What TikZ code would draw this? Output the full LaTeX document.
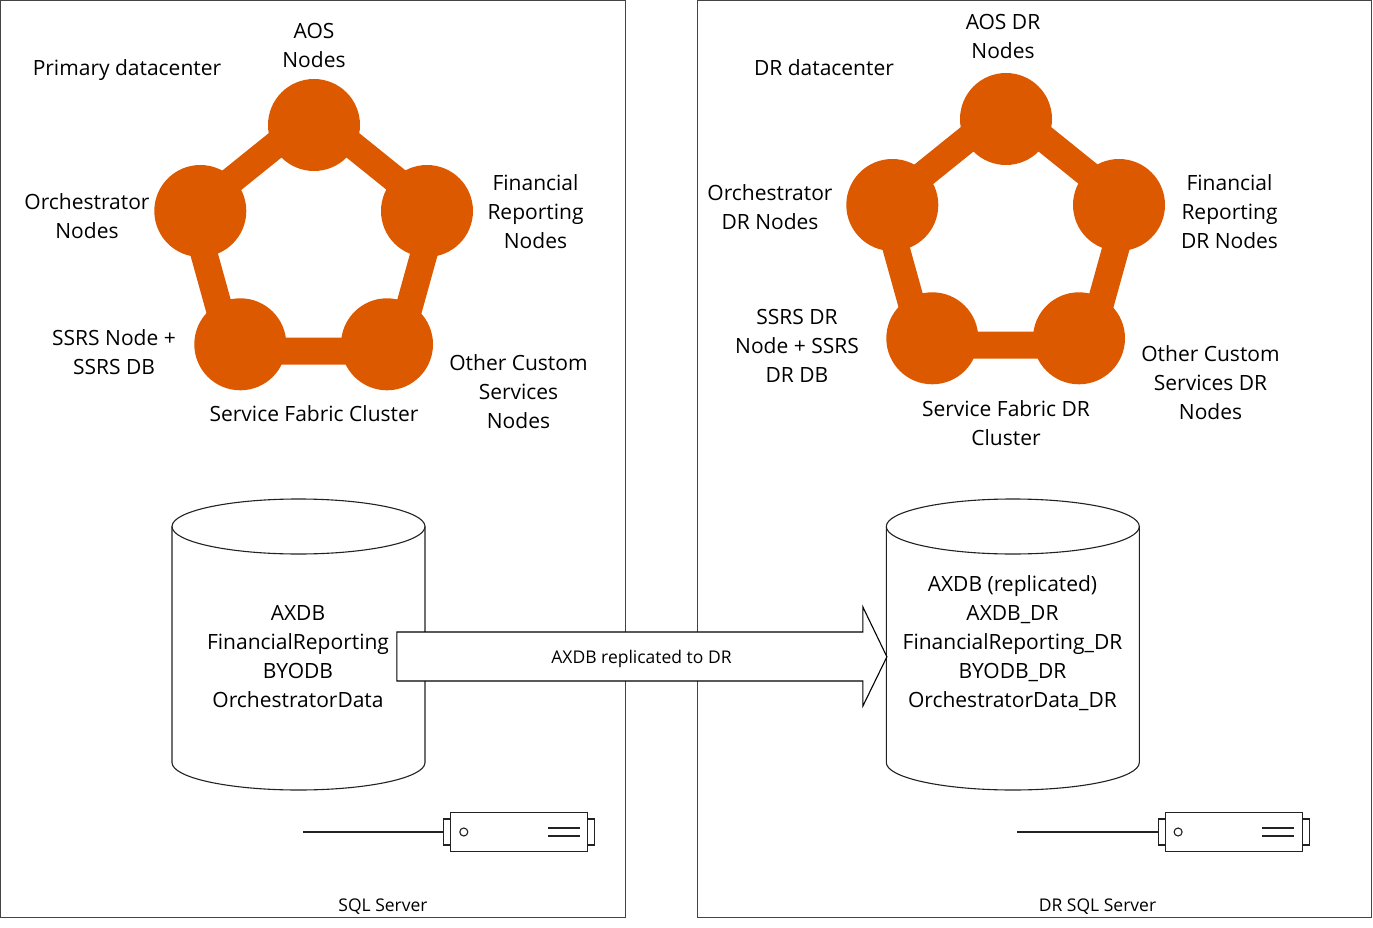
\documentclass[tikz,border=0pt]{standalone}
\usepackage{fontspec}
\setmainfont{Open Sans}
\definecolor{nodeorange}{HTML}{DD5900}
\definecolor{framegray}{HTML}{444444}
\definecolor{inkgray}{HTML}{222222}
\newcommand{\bigfont}{\fontsize{21}{29}\selectfont}
\newcommand{\smallfont}{\fontsize{17.5}{24}\selectfont}
\tikzset{
  frame/.style={draw=framegray,line width=1.1pt},
  label/.style={font=\bigfont,align=center,text=black,inner sep=0pt},
  smalllabel/.style={font=\smallfont,align=center,text=black,inner sep=0pt},
  hub/.style={circle,fill=nodeorange,minimum size=92pt,inner sep=0pt},
  bar/.style={draw=nodeorange,line width=27pt,line join=miter},
  part/.style={draw=inkgray,fill=white,line width=1.1pt,rectangle,inner sep=0pt},
  thin line/.style={draw=inkgray,line width=1.1pt},
  tank/.style={draw=inkgray,line width=1.1pt},
  block/.style={draw=black,fill=white,line width=1.1pt,line join=miter}
}
\newcommand{\ring}[1]{%
  \coordinate (#1a) at (314,114);
  \coordinate (#1b) at (435.6,212);
  \coordinate (#1c) at (397,351);
  \coordinate (#1d) at (231,351);
  \coordinate (#1e) at (192.4,212);
  \draw[bar] (#1a) -- (#1b) -- (#1c) -- (#1d) -- (#1e) -- cycle;
  \node[hub] (#1top) at (314,125) {};
  \node[hub] (#1right) at (427,211) {};
  \node[hub] (#1left) at (200.3,211) {};
  \node[hub] (#1bl) at (240.3,344.3) {};
  \node[hub] (#1br) at (387,344.3) {};
}
\newcommand{\server}[1]{%
  \node[part,minimum width=7pt,minimum height=26pt] (#1bayl) at (447.3,832) {};
  \node[part,minimum width=7pt,minimum height=26pt] (#1bayr) at (591.3,832) {};
  \node[part,minimum width=137pt,minimum height=39pt] (#1body) at (519.3,832.2) {};
  \node[part,circle,minimum size=8pt] (#1led) at (463.8,832) {};
  \coordinate (#1w) at (303,832);
  \draw[thin line] (#1w) -- (#1bayl.west);
  \coordinate (#1sa) at (548,828);
  \coordinate (#1sb) at (580,828);
  \coordinate (#1sc) at (548,836);
  \coordinate (#1sd) at (580,836);
  \draw[thin line] (#1sa) -- (#1sb) (#1sc) -- (#1sd);
}
\newcommand{\tankshape}{%
  \draw[tank] (172,526.5) arc[start angle=180,end angle=-180,x radius=126.5,y radius=27.5];
  \draw[tank] (172,526.5) -- (172,762.5) arc[start angle=180,end angle=0,x radius=126.5,y radius=27.5] -- (425,526.5);
}
\begin{document}
\begin{tikzpicture}[x=1pt,y=-1pt]
\useasboundingbox (0,0) rectangle (1373,928);
\fill[white] (0,0) rectangle (1373,928);
\draw[frame] (0.9,0.9) rectangle (625.9,917.9);
\draw[frame] (697.9,0.9) rectangle (1371.9,917.9);

\ring{p}
\begin{scope}[shift={(692,-6)}]
  \ring{d}
\end{scope}

\tankshape
\begin{scope}[shift={(714.3,0)}]
  \tankshape
\end{scope}

\server{s}
\begin{scope}[shift={(714.3,0)}]
  \server{t}
\end{scope}

\draw[block] (396.9,632) -- (862.9,632) -- (862.9,607) -- (886.9,656.8) -- (862.9,706) -- (862.9,681) -- (396.9,681) -- cycle;
\node[smalllabel] (arrowtext) at (641.5,658.5) {AXDB replicated to DR};

\node[label] (n1) at (127,70) {Primary datacenter};
\node[label] (n2) at (314,45.5) {AOS\\Nodes};
\node[label] (n3) at (87,216.5) {Orchestrator\\Nodes};
\node[label] (n4) at (535.5,212) {Financial\\Reporting\\Nodes};
\node[label] (n5) at (114,352.5) {SSRS Node +\\SSRS DB};
\node[label] (n6) at (518.5,391.5) {Other Custom\\Services\\Nodes};
\node[label] (n7) at (314,414) {Service Fabric Cluster};
\node[label] (n8) at (298,657) {AXDB\\FinancialReporting\\BYODB\\OrchestratorData};

\node[label] (m1) at (824,68) {DR datacenter};
\node[label] (m2) at (1003,36.5) {AOS DR\\Nodes};
\node[label] (m3) at (770,207.5) {Orchestrator\\DR Nodes};
\node[label] (m4) at (1229.5,212) {Financial\\Reporting\\DR Nodes};
\node[label] (m5) at (797,346) {SSRS DR\\Node + SSRS\\DR DB};
\node[label] (m6) at (1210.5,383) {Other Custom\\Services DR\\Nodes};
\node[label] (m7) at (1006,423) {Service Fabric DR\\Cluster};
\node[label] (m8) at (1012.5,643.5) {AXDB (replicated)\\AXDB\_DR\\FinancialReporting\_DR\\BYODB\_DR\\OrchestratorData\_DR};

\node[smalllabel] (n9) at (383,907) {SQL Server};
\node[smalllabel] (m9) at (1097.5,907) {DR SQL Server};
\end{tikzpicture}
\end{document}
